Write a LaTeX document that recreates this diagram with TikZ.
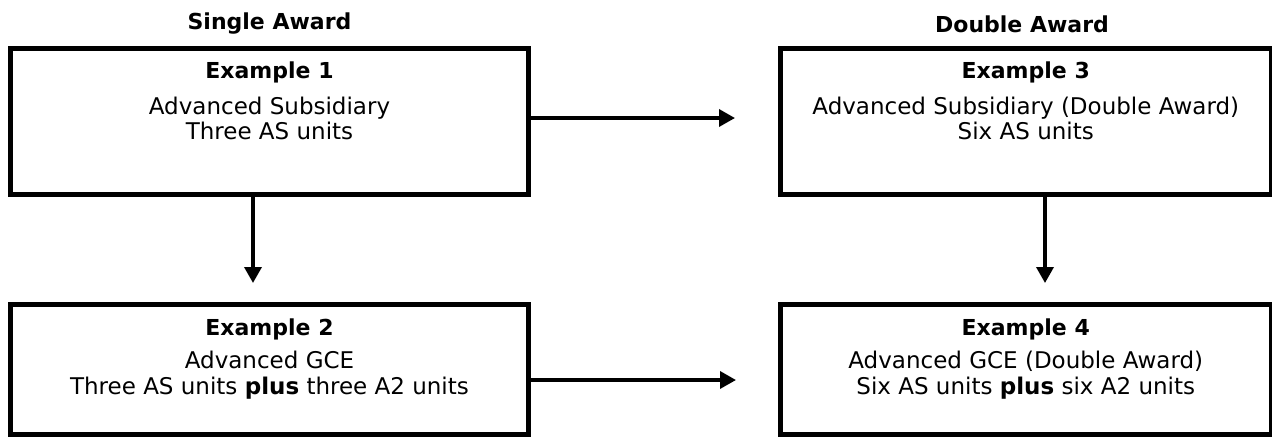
\documentclass[tikz,border=0pt]{standalone}
\usepackage{fontspec}
\setmainfont{DejaVu Sans}
\usetikzlibrary{arrows.meta}
\begin{document}
\begin{tikzpicture}[x=1pt,y=-1pt,
  box/.style={draw, rectangle, line width=5pt, inner sep=0pt},
  arr/.style={line width=3.5pt, -{Triangle[length=16pt,width=17pt]}},
  head/.style={font=\bfseries\fontsize{22}{25}\selectfont, inner sep=0pt},
  body/.style={font=\fontsize{23}{25.5}\selectfont, align=center, inner sep=0pt}]
\useasboundingbox (0,0) rectangle (1272,437);

% the four boxes
\node[box, minimum width=518pt, minimum height=146.5pt] (b1) at (269.5,121.25) {};
\node[box, minimum width=490.5pt, minimum height=146.5pt] (b3) at (1025.75,121.25) {};
\node[box, minimum width=518pt, minimum height=130pt] (b2) at (269.5,369.5) {};
\node[box, minimum width=490.5pt, minimum height=130pt] (b4) at (1025.75,369.5) {};

% column titles
\node[head] (s) at (269.5,24) {Single Award};
\node[head] (d) at (1022,24) {Double Award};

% box contents
\node[head] (e1) at ([yshift=-27pt]b1.north) {Example 1};
\node[body] (t1) at ([yshift=-73pt]b1.north) {Advanced Subsidiary\\Three AS units};
\node[head] (e3) at ([yshift=-27pt]b3.north) {Example 3};
\node[body] (t3) at ([yshift=-73pt]b3.north) {Advanced Subsidiary (Double Award)\\Six AS units};
\node[head] (e2) at ([yshift=-27pt]b2.north) {Example 2};
\node[body] (t2) at ([yshift=-73pt]b2.north) {Advanced GCE\\Three AS units \textbf{plus} three A2 units};
\node[head] (e4) at ([yshift=-27pt]b4.north) {Example 4};
\node[body] (t4) at ([yshift=-73pt]b4.north) {Advanced GCE (Double Award)\\Six AS units \textbf{plus} six A2 units};

% arrow ends
\coordinate (h1) at (735,118);
\coordinate (h2) at (736,380);
\coordinate (v1) at (253,283);
\coordinate (v2) at (1045,283);

\draw[arr] (b1.east |- h1) -- (h1);
\draw[arr] (b2.east |- h2) -- (h2);
\draw[arr] (b1.south -| v1) -- (v1);
\draw[arr] (b3.south -| v2) -- (v2);
\end{tikzpicture}
\end{document}
